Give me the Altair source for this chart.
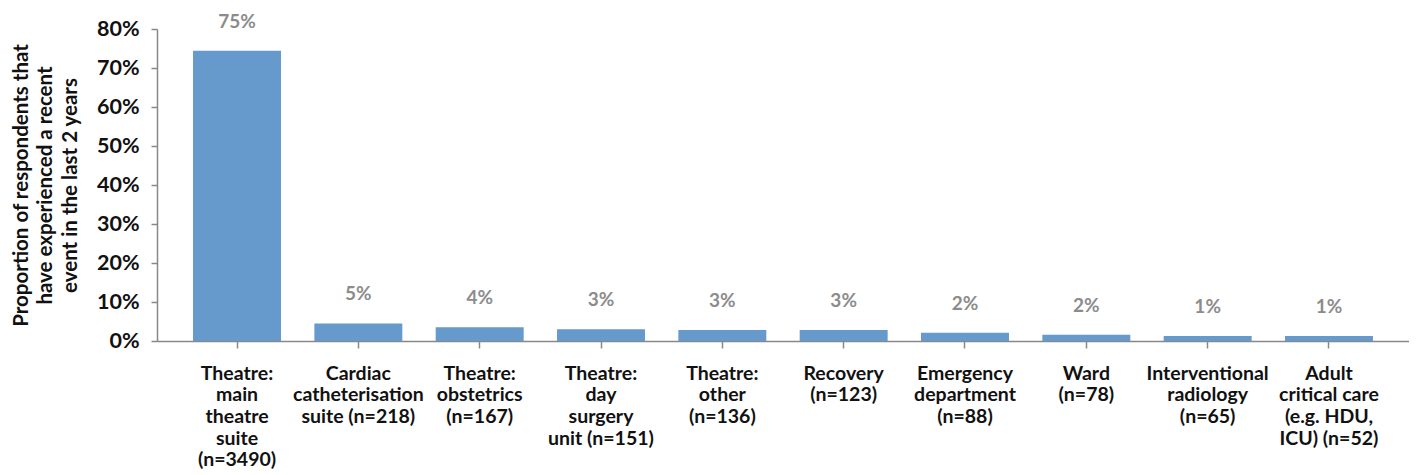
import altair as alt
import pandas as pd

categories = [
    "Theatre:|main|theatre|suite|(n=3490)",
    "Cardiac|catheterisation|suite (n=218)",
    "Theatre:|obstetrics|(n=167)",
    "Theatre:|day|surgery|unit (n=151)",
    "Theatre:|other|(n=136)",
    "Recovery|(n=123)",
    "Emergency|department|(n=88)",
    "Ward|(n=78)",
    "Interventional|radiology|(n=65)",
    "Adult|critical care|(e.g. HDU,|ICU) (n=52)",
]
values = [74.4, 4.5, 3.5, 3.0, 2.8, 2.8, 2.1, 1.6, 1.3, 1.3]
value_labels = ["75%", "5%", "4%", "3%", "3%", "3%", "2%", "2%", "1%", "1%"]
y_ticks = [0, 10, 20, 30, 40, 50, 60, 70, 80]

df = pd.DataFrame({"cat": categories, "val": values, "lab": value_labels})

FONT = "Lato"

x = alt.X(
    "cat:N",
    sort=None,
    scale=alt.Scale(paddingInner=0.275, paddingOuter=0.297),
    axis=alt.Axis(
        title=None,
        labelAngle=0,
        labelExpr="split(datum.label, '|')",
        labelFont=FONT,
        labelFontSize=19.5,
        labelFontWeight="bold",
        labelColor="#111111",
        labelLineHeight=21.7,
        labelBaseline="top",
        labelPadding=16,
        labelLimit=0,
        labelOverlap=False,
        domainColor="#888888",
        domainWidth=1.5,
        tickColor="#888888",
        tickSize=7,
        tickWidth=1.5,
        grid=False,
    ),
)

y = alt.Y(
    "val:Q",
    scale=alt.Scale(domain=[0, 80]),
    axis=alt.Axis(
        values=y_ticks,
        tickCount=9,
        labelExpr="datum.value + '%'",
        labelOverlap=False,
        title=[
            "Proportion of respondents that",
            "have experienced a recent",
            "event in the last 2 years",
        ],
        titleFont=FONT,
        titleFontSize=20.5,
        titleFontWeight="bold",
        titleColor="#111111",
        titleLineHeight=24.5,
        titleAngle=-90,
        titleAlign="center",
        titleBaseline="middle",
        titleX=-136,
        titleY=156,
        labelFont=FONT,
        labelFontSize=21.5,
        labelFontWeight="bold",
        labelColor="#111111",
        labelPadding=12,
        domainColor="#888888",
        domainWidth=1.5,
        tickColor="#888888",
        tickSize=6,
        tickWidth=1.5,
        grid=False,
    ),
)

bars = alt.Chart(df).mark_bar(color="#6699CC").encode(x=x, y=y)

text = alt.Chart(df).mark_text(
    font=FONT,
    fontSize=19,
    fontWeight="bold",
    color="#8C8C8C",
    dy=-29,
    baseline="middle",
).encode(x=x, y=y, text="lab:N")

chart = (
    alt.layer(bars, text)
    .properties(
        width=1252,
        height=312,
        autosize=alt.AutoSizeParams(type="none"),
        padding={"left": 149, "top": 21, "right": 0, "bottom": 130},
    )
    .configure_view(stroke=None)
)

chart.save("out.html", embed_options={"renderer": "svg", "actions": False})
